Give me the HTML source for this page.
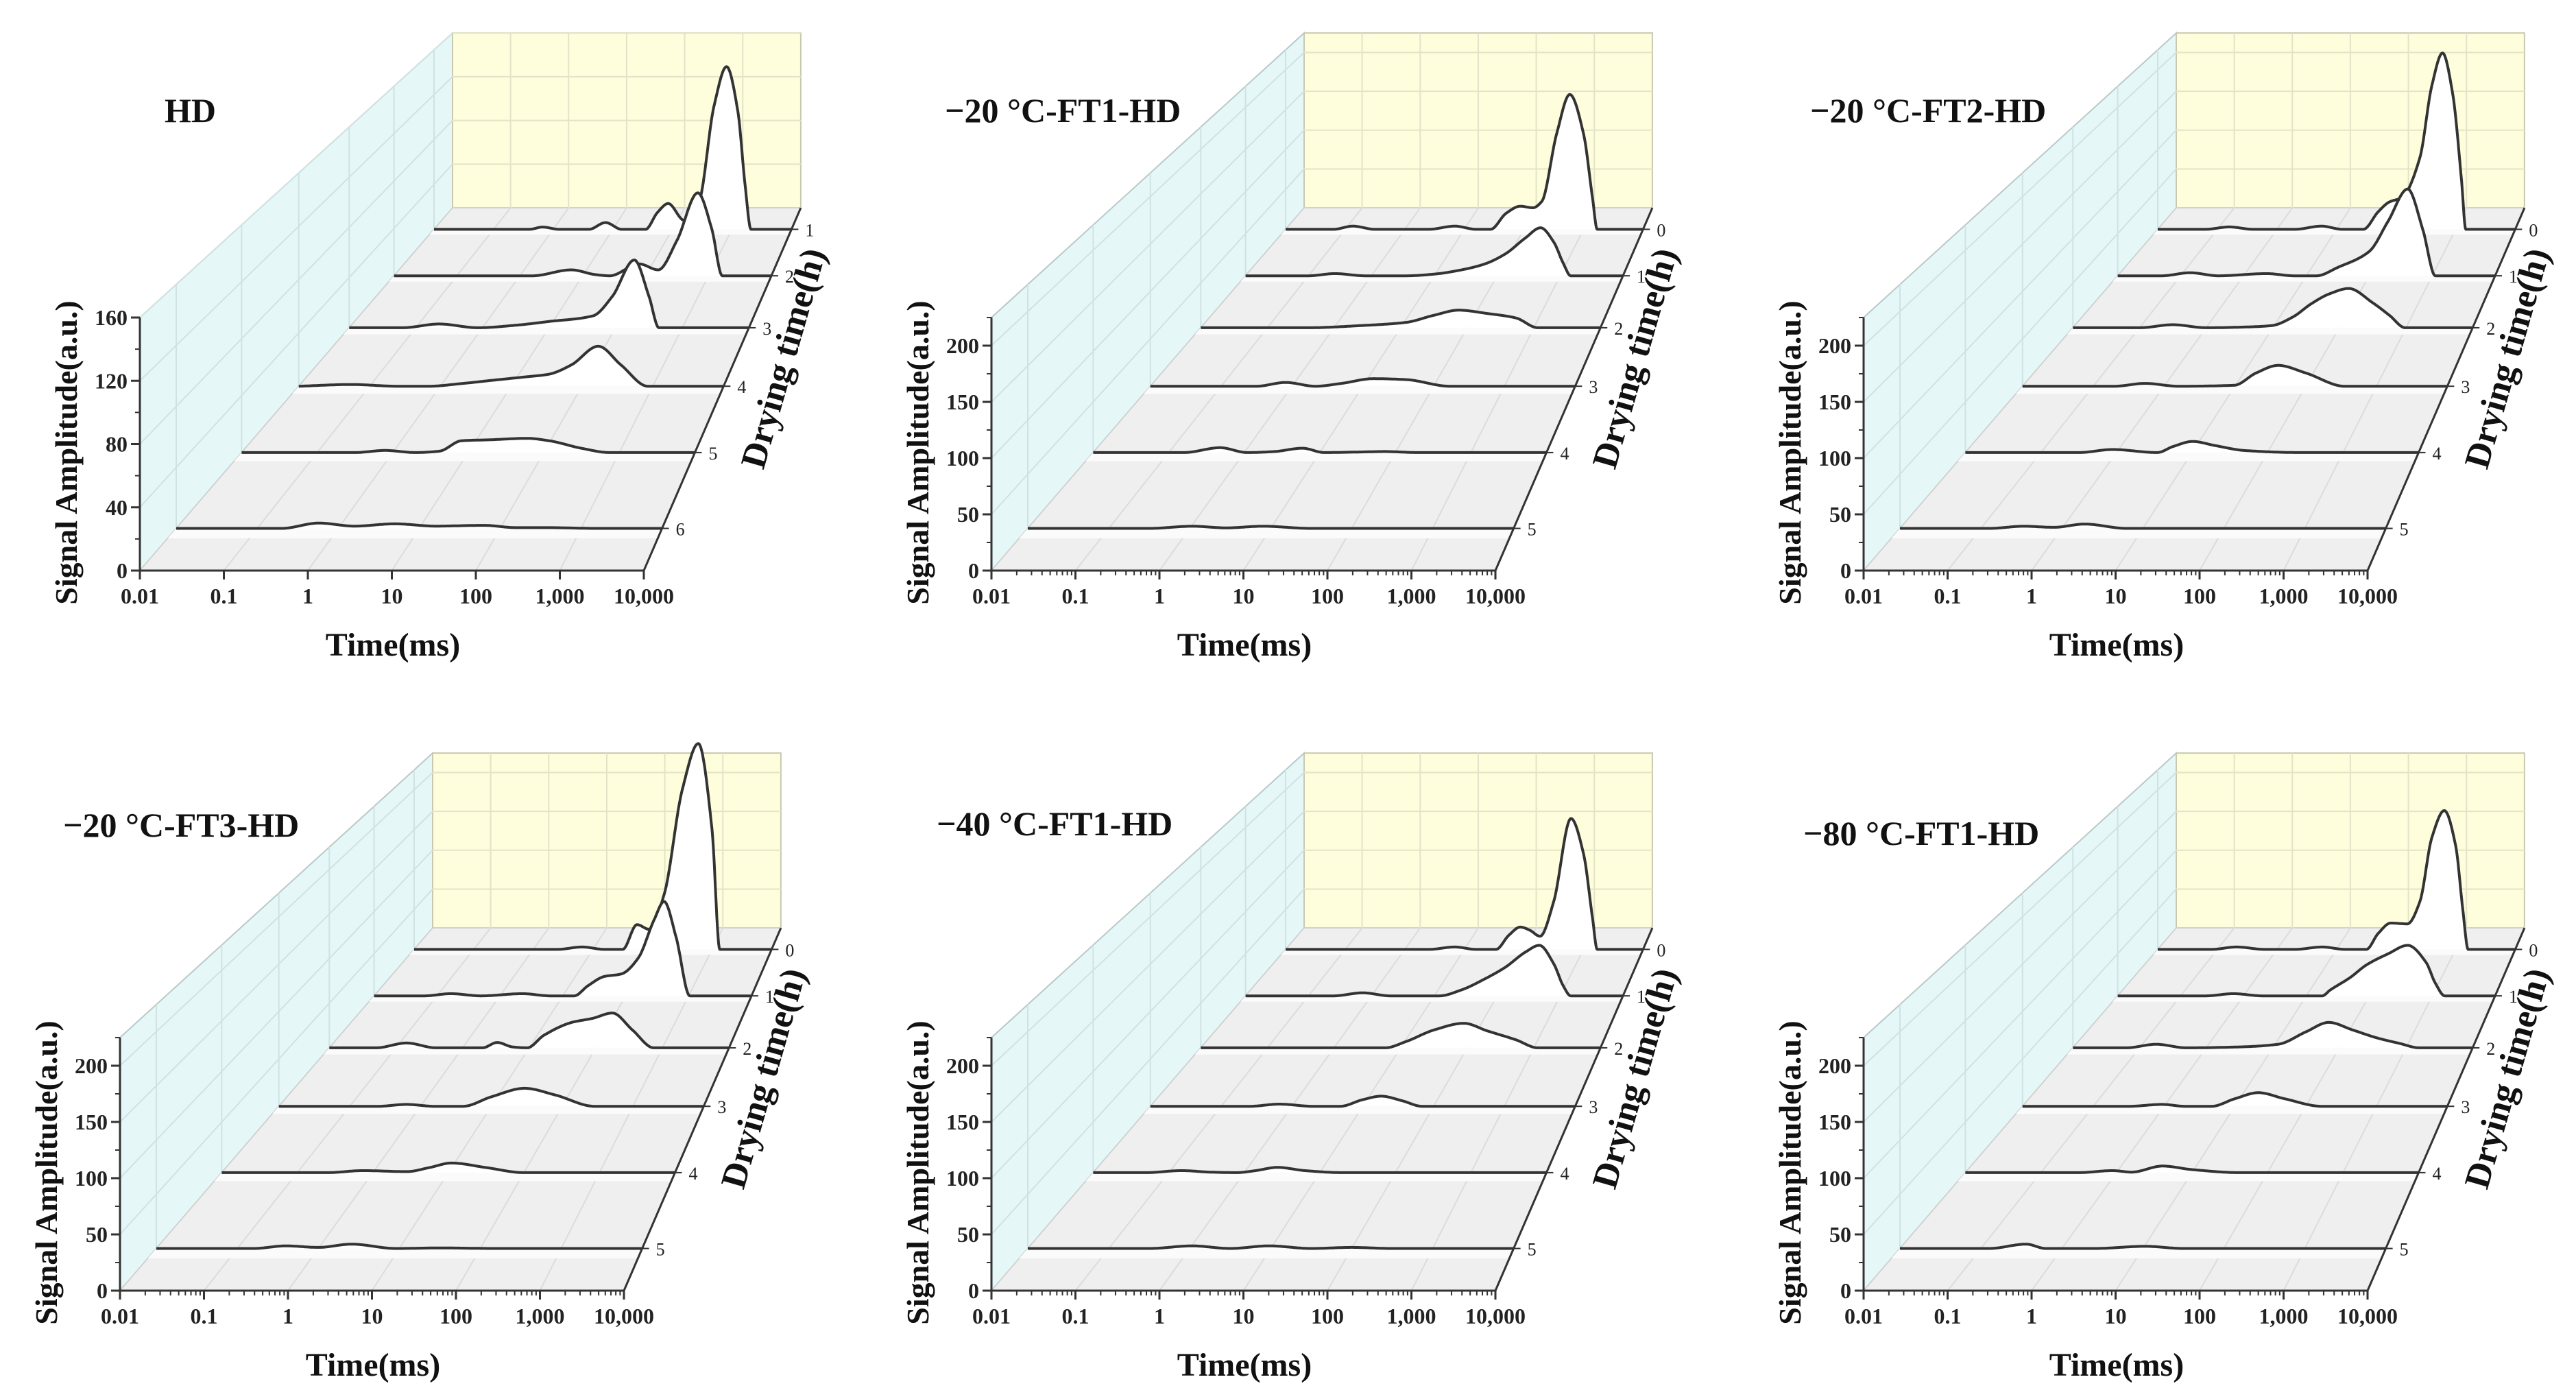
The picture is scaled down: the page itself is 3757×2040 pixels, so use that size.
<!DOCTYPE html>
<html><head><meta charset="utf-8"><style>
html,body{margin:0;padding:0;background:#fff;}
svg{display:block;font-family:"Liberation Serif",serif;}
</style></head>
<body>
<svg id="fig" xmlns="http://www.w3.org/2000/svg" width="3757" height="2040" viewBox="0 0 3757 2040">
<rect x="0" y="0" width="3757" height="2040" fill="#fff"/>
</svg>
<script>
// ---- data (log10 time knots in ms, amplitude knots in a.u.) ----
const xTickLabels = ["0.01","0.1","1","10","100","1,000","10,000"];
const yTicksHD = [0,40,80,120,160];
const yTicksFT = [0,50,100,150,200];
const depthLabelsHD = ["1","2","3","4","5","6"];
const depthLabelsFT = ["0","1","2","3","4","5"];

const p1LogT = [
 [-2,-0.4,-0.18,0.1,0.6,0.88,1.15,1.55,1.75,1.93,2.2,2.45,2.7,2.91,3.1,3.22,3.32,4],
 [-2,-0.5,0.2,0.82,1.2,1.43,1.9,2.2,2.5,2.83,3.05,3.22,4],
 [-2,-1.2,-0.65,-0.07,0.5,1.0,1.66,1.95,2.28,2.5,2.65,4],
 [-2,-1.26,-0.6,-0.17,0.3,0.76,1.2,1.53,1.85,2.23,2.55,2.93,4],
 [-2,-0.5,-0.1,0.3,0.62,0.91,1.3,1.78,2.07,2.5,2.87,4],
 [-2,-0.7,-0.24,0.2,0.7,1.2,1.8,2.2,2.6,3.2,4]];
const p1Amp = [
 [0,0,2,0,0,6,0,0,15,23,8,25,110,145,105,40,0,0],
 [0,0,0,5,1,0,10,5,30,70,40,0,0],
 [0,0,3,0,2,5,9.5,25,54,25,0,0],
 [0,1.3,0,0,2,4.6,7,9,16,30,16,0,0],
 [0,0,1.5,0,1,8.3,9,10,8.3,3,0,0],
 [0,0,3.5,1.5,3,1.5,2,0.5,0.5,0,0]];

const p2LogT = [
 [-2,-1.2,-0.87,-0.5,0.4,0.84,1.2,1.44,1.7,1.94,2.15,2.3,2.55,2.77,3.0,3.15,3.23,4],
 [-2,-1,-0.58,-0.1,0.56,1.0,1.43,1.8,2.13,2.45,2.69,2.9,3.05,3.17,4],
 [-2,-0.4,0.42,1.08,1.5,1.87,2.3,2.73,3.06,4],
 [-2,-0.5,-0.09,0.33,0.7,1.15,1.61,2.23,4],
 [-2,-0.8,-0.32,0.04,0.4,0.77,1.06,1.5,1.86,2.3,4],
 [-2,-0.5,0.03,0.45,0.9,1.5,4]];
const p2Amp = [
 [0,0,4,0,0,4,0,0,20,29,27,35,120,169,120,40,0,0],
 [0,0,2.6,0,0,2,7,14,26,45,57,40,15,0,0],
 [0,0,2.5,6,14,19.7,16,11,0,0],
 [0,0,4,0,3,8,7,0,0],
 [0,0,4.8,0,1,4.3,0,0.5,1,0,0],
 [0,0,2,0.5,2,0,0]];

const p3LogT = [
 [-2,-1.2,-0.8,-0.4,0.3,0.75,1.1,1.45,1.7,1.88,2.1,2.4,2.6,2.78,2.95,3.1,3.17,4],
 [-2,-1.3,-0.85,-0.4,0.37,0.8,1.16,1.5,2.0,2.3,2.61,2.85,3.05,4],
 [-2,-1,-0.5,0,0.66,0.99,1.3,1.58,1.85,2.14,2.5,2.75,2.99,4],
 [-2,-0.7,-0.27,0.2,0.99,1.3,1.61,2.0,2.55,4],
 [-2,-0.5,-0.05,0.54,0.75,1.01,1.3,1.7,2.44,4],
 [-2,-0.9,-0.47,-0.1,0.28,0.8,1.4,4]];
const p3Amp = [
 [0,0,3,0,0,4,0,0,22,34,40,90,180,221,170,60,0,0],
 [0,0,3.6,0,2.6,0,0,10,29,65,103,55,0,0],
 [0,0,3.4,0,1,2.5,12,27,38,44,28,14,0,0],
 [0,0,3,0,1,14,22,14,0,0],
 [0,0,3,0,6,11,7,2,0,0],
 [0,0,2,1,4,0,0,0]];

const p4LogT = [
 [-2,0.4,0.82,1.2,1.5,1.74,1.95,2.2,2.5,2.77,3.0,3.13,4],
 [-2,-1.2,-0.78,-0.3,0.36,0.8,1.18,1.4,1.66,1.93,2.2,2.45,2.61,2.8,3.02,4],
 [-2,-1.3,-0.84,-0.4,0.3,0.52,0.75,0.97,1.22,1.64,1.95,2.25,2.55,2.87,4],
 [-2,-0.6,-0.2,0.2,0.6,1.0,1.47,1.9,2.46,4],
 [-2,-0.6,-0.13,0.45,0.75,1.04,1.5,2.0,4],
 [-2,-0.8,-0.4,0,0.41,0.96,1.5,2.2,4]];
const p4Amp = [
 [0,0,3,0,0,31,25,70,200,258,150,0,0],
 [0,0,2.6,0,2.6,0,0,12,23,26,45,90,112,70,0,0],
 [0,0,5.4,0,0,6,1,0,14,28.5,33,39,20,0,0],
 [0,0,2,0,0,10,19,12,0,0],
 [0,0,2,1,5,9.5,5,0,0],
 [0,0,2.4,1,4,0,0.5,0,0]];

const p5LogT = [
 [-2,0.4,0.84,1.2,1.53,1.75,1.94,2.1,2.27,2.5,2.79,3.0,3.15,3.23,4],
 [-2,-0.6,-0.14,0.3,1.08,1.43,1.8,2.13,2.45,2.67,2.9,3.05,3.17,4],
 [-2,0.77,1.08,1.5,1.95,2.3,2.73,3.06,4],
 [-2,-0.6,-0.18,0.3,0.68,1.0,1.26,1.55,1.84,4],
 [-2,-1.3,-0.83,-0.45,-0.1,0.15,0.44,0.8,1.3,4],
 [-2,-0.5,0.03,0.5,0.98,1.5,2.0,2.5,4]];
const p5Amp = [
 [0,0,3,0,0,18,28,24,16.5,60,164,120,40,0,0],
 [0,0,3.6,0,0,7,20,34,52,60,38,12,0,0],
 [0,0,7,20,27.5,19,9,0,0],
 [0,0,2.3,0,0,7,10.7,6,0,0],
 [0,0,2,0.5,0,2,5.2,2,0,0],
 [0,0,2.4,0,2.4,0,1,0,0]];

const p6LogT = [
 [-2,-1.1,-0.68,-0.2,0.3,0.76,1.15,1.5,1.7,1.91,2.19,2.4,2.6,2.81,3.0,3.12,3.21,4],
 [-2,-0.6,-0.16,0.3,1.0,1.25,1.38,1.7,1.95,2.3,2.61,2.9,3.05,3.2,4],
 [-2,-1.2,-0.75,-0.3,0.5,1.08,1.5,1.84,2.2,2.57,2.9,3.2,4],
 [-2,-0.5,-0.03,0.3,0.67,1.0,1.33,1.7,2.23,4],
 [-2,-0.5,-0.05,0.2,0.61,1.0,1.63,4],
 [-2,-0.9,-0.44,-0.2,0.4,1.03,1.5,4]];
const p6Amp = [
 [0,0,3,0,0,3,0,0,20,33,32,60,140,174,130,50,0,0],
 [0,0,2.6,0,0,0,7,22,36.5,50,60,40,15,0,0],
 [0,0,4,0,1,4,18,28.5,20,11,5,0,0],
 [0,0,2,0,0,8,14.4,8,0,0],
 [0,0,2,0.5,6.5,3,0,0],
 [0,0,4,0,0,2,0,0]];

const panelTitles = ["HD","\u221220 \u00B0C-FT1-HD","\u221220 \u00B0C-FT2-HD","\u221220 \u00B0C-FT3-HD","\u221240 \u00B0C-FT1-HD","\u221280 \u00B0C-FT1-HD"];

// ---- geometry ----
const NS = "http://www.w3.org/2000/svg";
const svg = document.getElementById('fig');
const W = 735, H = 369, K = 0.447, VX = 1476, VY = -1712;
const panels = [
 {ox:204, oy:832, ymax:160, ticks:yTicksHD, dl:depthLabelsHD, T:p1LogT, A:p1Amp, minor:false, tx:240, ty:178},
 {ox:1446, oy:832, ymax:225, ticks:yTicksFT, dl:depthLabelsFT, T:p2LogT, A:p2Amp, minor:true, tx:1378, ty:178},
 {ox:2718, oy:832, ymax:225, ticks:yTicksFT, dl:depthLabelsFT, T:p3LogT, A:p3Amp, minor:true, tx:2640, ty:178},
 {ox:175, oy:1882, ymax:225, ticks:yTicksFT, dl:depthLabelsFT, T:p4LogT, A:p4Amp, minor:true, tx:92, ty:1220},
 {ox:1446, oy:1882, ymax:225, ticks:yTicksFT, dl:depthLabelsFT, T:p5LogT, A:p5Amp, minor:true, tx:1366, ty:1218},
 {ox:2718, oy:1882, ymax:225, ticks:yTicksFT, dl:depthLabelsFT, T:p6LogT, A:p6Amp, minor:true, tx:2630, ty:1232}
];

function mk(tag, attrs, parent){
  const e = document.createElementNS(NS, tag);
  for (const k in attrs) e.setAttribute(k, attrs[k]);
  (parent||svg).appendChild(e);
  return e;
}
function proj(p, L, A, d){
  const s = 1/(1+K*d);
  return [p.ox + VX*(1-s) + (L+2)/6*W*s, p.oy + VY*(1-s) - A*(H/p.ymax)*s];
}
function pts(arr){ return arr.map(q=>q[0].toFixed(1)+','+q[1].toFixed(1)).join(' '); }
function depthOf(j){ return (11-2*j)/12; }

// monotone cubic (Fritsch-Carlson)
function monotone(xs, ys){
  const n = xs.length, dx=[], m=[], t=new Array(n).fill(0);
  for (let i=0;i<n-1;i++){ dx[i]=xs[i+1]-xs[i]; m[i]=(ys[i+1]-ys[i])/dx[i]; }
  t[0]=m[0]; t[n-1]=m[n-2];
  for (let i=1;i<n-1;i++){
    if (m[i-1]*m[i]<=0) t[i]=0;
    else { const w1=2*dx[i]+dx[i-1], w2=dx[i]+2*dx[i-1]; t[i]=(w1+w2)/(w1/m[i-1]+w2/m[i]); }
  }
  return function(x){
    let i=0; while(i<n-2 && x>xs[i+1]) i++;
    const h=dx[i], u=(x-xs[i])/h, u2=u*u, u3=u2*u;
    return (2*u3-3*u2+1)*ys[i] + (u3-2*u2+u)*h*t[i] + (-2*u3+3*u2)*ys[i+1] + (u3-u2)*h*t[i+1];
  };
}

panels.forEach((p, pi)=>{
  const g = mk('g', {});
  
  
  const ym = p.ymax;
  const lw = mk('polygon', {points: pts([proj(p,-2,0,0),proj(p,-2,ym,0),proj(p,-2,ym,1),proj(p,-2,0,1)]), fill:'#e6f7f7', stroke:'#b9c9c9', 'stroke-width':2}, g);
  
  
  const bw = mk('polygon', {points: pts([proj(p,-2,0,1),proj(p,4,0,1),proj(p,4,ym,1),proj(p,-2,ym,1)]), fill:'#fefedd', stroke:'#c9c9b0', 'stroke-width':2}, g);
  
  
  const fl = mk('polygon', {points: pts([proj(p,-2,0,0),proj(p,4,0,0),proj(p,4,0,1),proj(p,-2,0,1)]), fill:'#efefef', stroke:'#d0d0d0', 'stroke-width':1.5}, g);
  
  
  for (let L=-1; L<=3; L++){
    const a=proj(p,L,0,1), b=proj(p,L,ym,1);
    mk('line',{x1:a[0],y1:a[1],x2:b[0],y2:b[1],stroke:'#e3e3c8','stroke-width':2},g);
  }
  for (let L=-1; L<=4; L++){
    const a=proj(p,L,0,0), b=proj(p,L,0,1);
    mk('line',{x1:a[0],y1:a[1],x2:b[0],y2:b[1],stroke:'#dcdcdc','stroke-width':2},g);
  }
  p.ticks.forEach(v=>{
    if (v===0) return;
    const a=proj(p,-2,v,1), b=proj(p,4,v,1), c=proj(p,-2,v,0);
    mk('line',{x1:a[0],y1:a[1],x2:b[0],y2:b[1],stroke:'#e3e3c8','stroke-width':2},g);
    mk('line',{x1:c[0],y1:c[1],x2:a[0],y2:a[1],stroke:'#d0e2e2','stroke-width':2},g);
  });
  for (let j=0;j<6;j++){
    const d=depthOf(j), a=proj(p,-2,0,d), b=proj(p,-2,ym,d);
    mk('line',{x1:a[0],y1:a[1],x2:b[0],y2:b[1],stroke:'#d0e2e2','stroke-width':2},g);
  }
  for (let j=0;j<6;j++){
    const d=depthOf(j);
    const band = mk('polygon',{points: pts([proj(p,-2,0,d),proj(p,4,0,d),proj(p,4,0,d-0.02),proj(p,-2,0,d-0.02)]), fill:'#fbfbfb'}, g);
    
    
  }
  for (let j=0;j<6;j++){
    const d=depthOf(j), f=monotone(p.T[j], p.A[j]);
    const line=[];
    for (let k=0;k<=600;k++){ const L=-2+6*k/600; line.push(proj(p,L,Math.max(0,f(L)),d)); }
    const fillPts = line.concat([proj(p,4,0,d),proj(p,-2,0,d)]);
    const fp = mk('polygon',{points: pts(fillPts), fill:'#fff'}, g);
    
    
    const pl = mk('polyline',{points: pts(line), fill:'none', stroke:'#333', 'stroke-width':4, 'stroke-linejoin':'round'}, g);
    
    
    const e=proj(p,4,0,d);
    mk('line',{x1:e[0],y1:e[1],x2:e[0]+10,y2:e[1],stroke:'#333','stroke-width':2},g);
    const dt = mk('text',{x:e[0]+20,y:e[1]+10,'font-size':26,fill:'#222'},g);
    dt.textContent = p.dl[j];
    
    
  }
  const o=proj(p,-2,0,0), xe=proj(p,4,0,0), yt=proj(p,-2,ym,0), be=proj(p,4,0,1);
  const xa = mk('line',{x1:o[0],y1:o[1],x2:xe[0],y2:xe[1],stroke:'#333','stroke-width':3},g);
  
  
  const ya = mk('line',{x1:o[0],y1:o[1],x2:yt[0],y2:yt[1],stroke:'#333','stroke-width':3},g);
  
  
  const za = mk('line',{x1:xe[0],y1:xe[1],x2:be[0],y2:be[1],stroke:'#333','stroke-width':3},g);
  
  
  for (let i=0;i<=6;i++){
    const a=proj(p,i-2,0,0);
    mk('line',{x1:a[0],y1:a[1],x2:a[0],y2:a[1]+13,stroke:'#333','stroke-width':3},g);
    const t = mk('text',{x:a[0],y:a[1]+48,'font-size':32,'font-weight':'bold','text-anchor':'middle',fill:'#222'},g);
    t.textContent = xTickLabels[i];
    
    
    if (p.minor && i<6){
      for (let m=2;m<=9;m++){
        const b=proj(p,i-2+Math.log10(m),0,0);
        mk('line',{x1:b[0],y1:b[1],x2:b[0],y2:b[1]+7,stroke:'#333','stroke-width':2},g);
      }
    }
  }
  p.ticks.forEach((v,i)=>{
    const a=proj(p,-2,v,0);
    mk('line',{x1:a[0]-13,y1:a[1],x2:a[0],y2:a[1],stroke:'#333','stroke-width':3},g);
    const t = mk('text',{x:a[0]-18,y:a[1]+11,'font-size':32,'font-weight':'bold','text-anchor':'end',fill:'#222'},g);
    t.textContent = String(v);
    
    
    const step = p.ticks[1]-p.ticks[0];
    const mv = v+step/2;
    if (mv<=ym){ const b=proj(p,-2,mv,0); mk('line',{x1:b[0]-7,y1:b[1],x2:b[0],y2:b[1],stroke:'#333','stroke-width':2},g); }
  });
  const yl = mk('text',{x:0,y:0,'font-size':46,'font-weight':'bold','text-anchor':'middle',fill:'#111',
    transform:`translate(${p.ox-92},${p.oy-172}) rotate(-90)`},g);
  yl.textContent = 'Signal Amplitude(a.u.)';
  
  
  const xl = mk('text',{x:p.ox+369,y:p.oy+124,'font-size':48,'font-weight':'bold','text-anchor':'middle',fill:'#111'},g);
  xl.textContent = 'Time(ms)';
  
  
  const dl = mk('text',{x:0,y:0,'font-size':52,'font-weight':'bold','text-anchor':'middle',fill:'#111',
    transform:`translate(${p.ox+955},${p.oy-305}) rotate(-74)`},g);
  dl.textContent = 'Drying time(h)';
  
  
  const tt = mk('text',{x:p.tx,y:p.ty,'font-size':50,'font-weight':'bold',fill:'#111'},g);
  tt.textContent = panelTitles[pi];
  
  
});
</script>
</body></html>
